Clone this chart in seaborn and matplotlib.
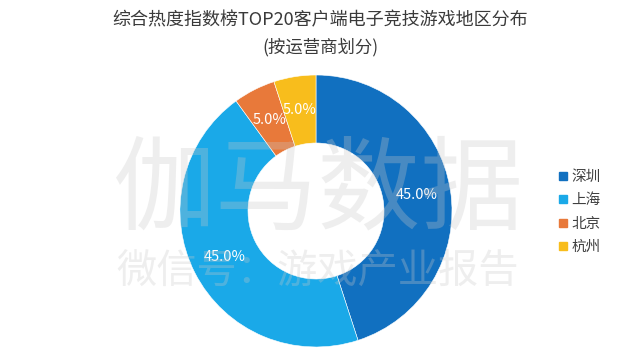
import matplotlib
matplotlib.use('Agg')
import matplotlib.pyplot as plt
import seaborn as sns
from matplotlib.lines import Line2D

# Data
regions = ['深圳', '上海', '北京', '杭州']
shares = [45.0, 45.0, 5.0, 5.0]
colors = ['#1170c0', '#1aa9e8', '#e8793a', '#f8bd1c']

sns.set_theme(style='white')
plt.rcParams['font.family'] = ['Noto Sans CJK SC', 'DejaVu Sans']

fig = plt.figure(figsize=(6.4, 3.58), dpi=100)
fig.patch.set_facecolor('white')

# donut centred at (316, 211) px with radius ~136 px
ax = fig.add_axes([(316 - 136) / 640, (358 - 211 - 136) / 358, 272 / 640, 272 / 358])
wedges, texts, autotexts = ax.pie(
    shares,
    colors=colors,
    startangle=90,
    counterclock=False,
    autopct='%1.1f%%',
    pctdistance=0.75,
    wedgeprops=dict(width=0.5, edgecolor='white', linewidth=0.4),
    textprops=dict(color='white', fontsize=10.5),
)
ax.set_xlim(-1, 1)
ax.set_ylim(-1, 1)
ax.set_aspect('equal')

fig.text(0.5, 1 - 20 / 358, '综合热度指数榜TOP20客户端电子竞技游戏地区分布',
         ha='center', va='center', fontsize=13, color='#3a3a3a')
fig.text(0.5, 1 - 47 / 358, '(按运营商划分)',
         ha='center', va='center', fontsize=12.5, color='#3a3a3a')

# legend
handles = [Line2D([0], [0], marker='s', linestyle='none', markersize=6,
                  markerfacecolor=c, markeredgecolor=c) for c in colors]
fig.legend(handles, regions, loc='center left',
           bbox_to_anchor=(545 / 640, 1 - 212 / 358), frameon=False,
           fontsize=10.5, handlelength=0.6, handletextpad=0.3,
           labelspacing=0.65, labelcolor='#404040')

# watermark
fig.text(318 / 640, 1 - 192 / 358, '伽马数据', ha='center', va='center',
         fontsize=74, color='#c8c8c8', alpha=0.3, zorder=10)
fig.text(318 / 640, 1 - 271 / 358, '微信号：游戏产业报告', ha='center', va='center',
         fontsize=29, color='#c8c8c8', alpha=0.3, zorder=10)

fig.savefig('out.png', dpi=100, facecolor='white')
